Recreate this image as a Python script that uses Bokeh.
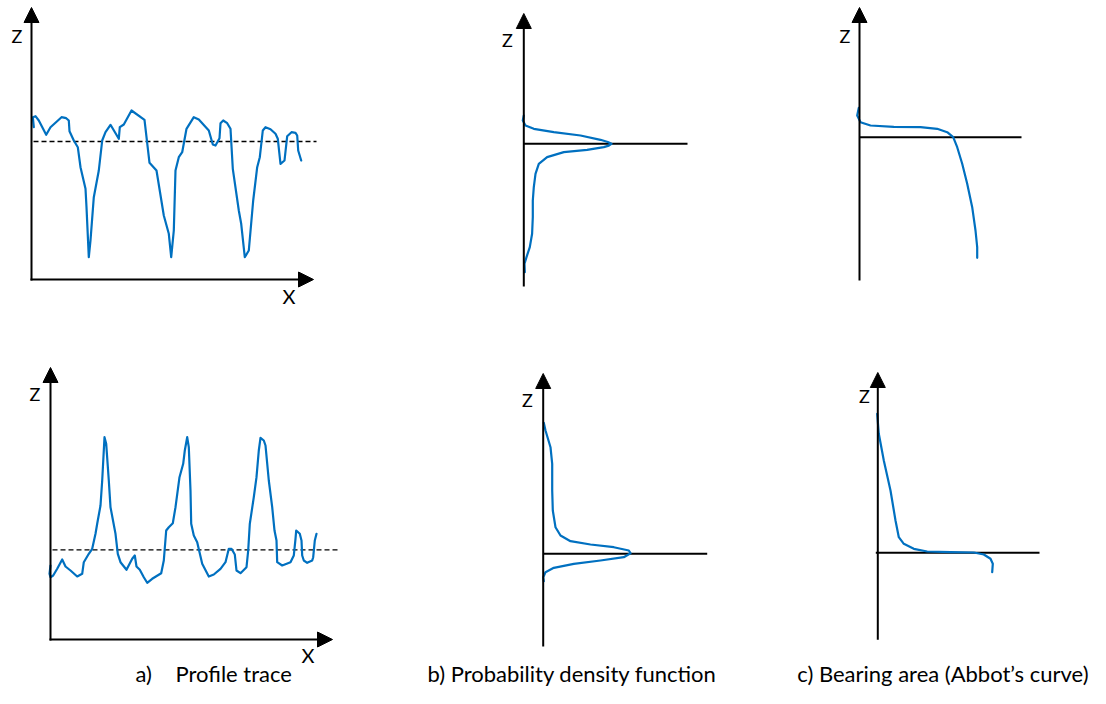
from bokeh.plotting import figure
from bokeh.models import Range1d, Arrow, NormalHead
from bokeh.core.properties import value
from bokeh.embed import file_html
from bokeh.resources import INLINE

BLUE = "#0070C0"
FONT = "Lato"

# ---------------- data (local units: x to the right, z upward, origin at axis crossing) ----------------
# a) profile trace, top row (valleys)
prof_top_x = [2.3, 1.3, 4, 7.3, 14.7, 19, 30, 34.7, 37.3, 38, 42.3, 46.3, 49, 54, 55, 57.3, 59, 62.3, 67.3,
              70.7, 74, 79, 87.3, 88.3, 92.3, 100, 113, 118, 125, 132.3, 137.3, 139.7, 142.3, 144, 147.3,
              150.7, 155, 162.3, 167.3, 177.3, 181.3, 184, 188, 189, 191.7, 195.7, 199, 201.3, 207.3, 209.7,
              213.3, 217.3, 221.7, 225.7, 228.3, 231.3, 234, 239, 244, 246.3, 249, 253, 255.7, 260, 264,
              265.7, 266.7, 269.7]
prof_top_z = [152.3, 162.3, 163.3, 159, 144.7, 152.3, 162.3, 161.3, 159, 148.3, 139, 132.3, 112.3, 90.7, 72.3,
              22.3, 39, 82.3, 109, 139, 147.3, 154.7, 140.7, 152.3, 155, 169, 159.7, 116.7, 109, 64, 45.7,
              22.3, 49, 109, 122.3, 127.3, 150.7, 162.3, 160, 149, 135, 134, 141.3, 156.3, 159, 156.3,
              150.7, 110.7, 69, 55.7, 22.3, 29, 79, 112.3, 122.3, 149, 152.3, 150.3, 145.7, 140.7, 115.7,
              119, 143.3, 147.3, 146.7, 144, 129, 119]
mean_top_z = 138

# a) profile trace, bottom row (peaks)
prof_bot_x = [0, -1, 0, 2.7, 6.7, 11.7, 15, 20, 26.7, 31.7, 33.3, 38.3, 41.7, 45, 46.7, 50, 51.7, 54, 55.7,
              58.3, 60, 65, 67.3, 70, 76, 81.7, 84.3, 86, 89.3, 93.3, 96.7, 101.7, 110.7, 113.3, 115.7,
              118.3, 122.3, 125, 129, 132.7, 134.3, 136.7, 138.3, 140, 140.7, 143.3, 146.7, 151.7, 158.3,
              163.3, 170, 175, 178.3, 181, 184.3, 186, 190, 196, 197.7, 199.3, 203.3, 206, 208.3, 210,
              213.3, 215, 218.3, 221.7, 224, 226, 226.7, 231.7, 240, 243.3, 245, 245.7, 249.3, 251, 251.7,
              253.3, 256.7, 261.7, 262.7, 264.3, 266]
prof_bot_z = [74, 65.7, 62.3, 64, 70.7, 80, 73, 69, 63, 65.7, 77.3, 85.7, 90.7, 105.7, 115.7, 134, 159, 202.3,
              195.7, 159, 132.3, 105.7, 85.7, 77.3, 69.7, 80.7, 84, 73, 69.7, 62.3, 56.7, 60.7, 66.3, 79,
              109, 112.3, 116.3, 132.3, 162.3, 175.7, 189, 202.3, 192.3, 149, 115.7, 104, 97.3, 75.7, 63,
              65, 70.7, 77.3, 90.7, 90.7, 85, 69, 66.3, 72.3, 89, 115.7, 142.3, 162.3, 189, 201.7, 199,
              194, 159, 132.3, 109, 99, 77.3, 74, 77.3, 84, 100.7, 109, 105.7, 99, 84, 79, 76.7, 79, 82.3,
              99, 105.7]
mean_bot_z = 89.7

# b) probability density function
pdf_top_x = [0, -1, 1.7, 10, 30, 56.7, 76.7, 84, 87.7, 85, 80, 63.3, 40, 23.3, 15, 11.7, 10, 9, 9, 8.3, 6,
             2.7, 0.7, 1]
pdf_top_z = [28.3, 23.3, 18.3, 15, 11.7, 8.3, 4, 1.8, 0, -1.8, -3.3, -6, -8.3, -13.3, -20, -30, -43.3, -56.7,
             -73.3, -90, -103.3, -113.3, -120, -128.3]
pdf_bot_x = [0.6, 2.3, 7.3, 9, 9, 9.6, 12.3, 17.3, 27.3, 47.3, 70.6, 85.6, 87.3, 80.6, 57.3, 30.6, 10.6, 2.3, 0, 0.6]
pdf_bot_z = [131, 123.3, 106.6, 90, 63.3, 43.3, 26.6, 18.3, 12.6, 9.3, 6.6, 3.3, 0.6, -3.4, -6.7, -10, -14,
             -18.4, -23.4, -27.4]

# c) bearing area (Abbott curve)
abb_top_x = [-0.7, -2.3, 1, 11, 34.3, 61, 77.7, 87.7, 93.7, 97.7, 102.7, 107.7, 112.7, 116, 117.7, 117.7]
abb_top_z = [29.4, 21.7, 15, 11.7, 10.4, 10, 8.4, 5, 0, -10, -26.6, -46.6, -70, -93.3, -110, -120.6]
abb_bot_x = [-0.6, 1, 6, 12.7, 17.7, 21, 26, 36, 49.4, 72.7, 96, 106, 112.7, 115, 114.4]
abb_bot_z = [139, 119, 92.3, 62.3, 32.3, 15.6, 9, 4, 1.3, 0.6, 0.3, -1.7, -6, -11, -19.4]

captions = ["a)", "Profile trace", "b) Probability density function", "c) Bearing area (Abbot\u2019s curve)"]

# ---------------- figure in page-pixel coordinates ----------------
W, H = 1090, 688
p = figure(width=W, height=H, x_range=Range1d(0, W), y_range=Range1d(H, 0),
           output_backend="svg", toolbar_location=None, min_border=0,
           x_axis_type=None, y_axis_type=None)
p.outline_line_color = None
p.background_fill_color = "white"
p.border_fill_color = "white"


def arrow(x0, y0, x1, y1):
    p.add_layout(Arrow(end=NormalHead(size=15, fill_color="black", line_color="black", line_width=1),
                       x_start=x0, y_start=y0, x_end=x1, y_end=y1,
                       line_color="black", line_width=2))


def label(txt, x, y, size=18, align="center"):
    # y is the wanted baseline; the svg text sits ~0.42 em lower than requested
    p.text(x=[x], y=[y - 0.42 * size], text=[txt], text_font=value(FONT), text_font_size=f"{size}px",
           text_align=align, text_baseline="alphabetic", text_color="black")


def curve(ox, oy, xs, zs):
    p.line([ox + v for v in xs], [oy - v for v in zs], line_color=BLUE, line_width=2.2,
           line_join="round", line_cap="round")


# panel a (top): origin (31,279)
ox, oy = 31, 279
arrow(ox, oy + 1, ox, oy - 272)
arrow(ox - 1, oy, ox + 282, oy)
p.line([ox + 2, ox + 285], [oy - mean_top_z] * 2, line_color="black", line_width=1.3, line_dash="5 3")
curve(ox, oy, prof_top_x, prof_top_z)
label("Z", 16.5, 43)
label("X", 288.5, 304, size=20)

# panel a (bottom): origin (50,639)
ox, oy = 50, 639
arrow(ox, oy + 1, ox, oy - 272)
arrow(ox - 1, oy, ox + 282, oy)
p.line([ox + 2, ox + 287], [oy - mean_bot_z] * 2, line_color="black", line_width=1.3, line_dash="5 3")
curve(ox, oy, prof_bot_x, prof_bot_z)
label("Z", 34.5, 401)
label("X", 307.5, 663, size=20)

# panel b (top): origin (523.3,143.3)
ox, oy = 523.3, 143.3
arrow(ox, oy + 142.7, ox, oy - 130.3)
p.line([ox, ox + 163.7], [oy, oy], line_color="black", line_width=2)
curve(ox, oy, pdf_top_x, pdf_top_z)
label("Z", 507, 47)

# panel b (bottom): origin (542.7,553.3)
ox, oy = 542.7, 553.3
arrow(ox, oy + 92.7, ox, oy - 180.3)
p.line([ox, ox + 164], [oy, oy], line_color="black", line_width=2)
curve(ox, oy, pdf_bot_x, pdf_bot_z)
label("Z", 527, 407)

# panel c (top): origin (859,136.7)
ox, oy = 859, 136.7
arrow(ox, oy + 143.3, ox, oy - 129.7)
p.line([ox, ox + 162], [oy, oy], line_color="black", line_width=2)
curve(ox, oy, abb_top_x, abb_top_z)
label("Z", 844.5, 43)

# panel c (bottom): origin (877.3,552.3)
ox, oy = 877.3, 552.3
arrow(ox, oy + 87, ox, oy - 180.3)
p.line([ox - 2, ox + 161.7], [oy, oy], line_color="black", line_width=2)
curve(ox, oy, abb_bot_x, abb_bot_z)
label("Z", 864, 403)

# captions (kept inside the 1090x688 canvas)
CAP_Y = 682
label(captions[0], 135, CAP_Y, size=22, align="left")
label(captions[1], 175, CAP_Y, size=22, align="left")
label(captions[2], 427, CAP_Y, size=22, align="left")
label(captions[3], 1088, CAP_Y, size=22, align="right")

open("out.html", "w").write(file_html(p, INLINE))
